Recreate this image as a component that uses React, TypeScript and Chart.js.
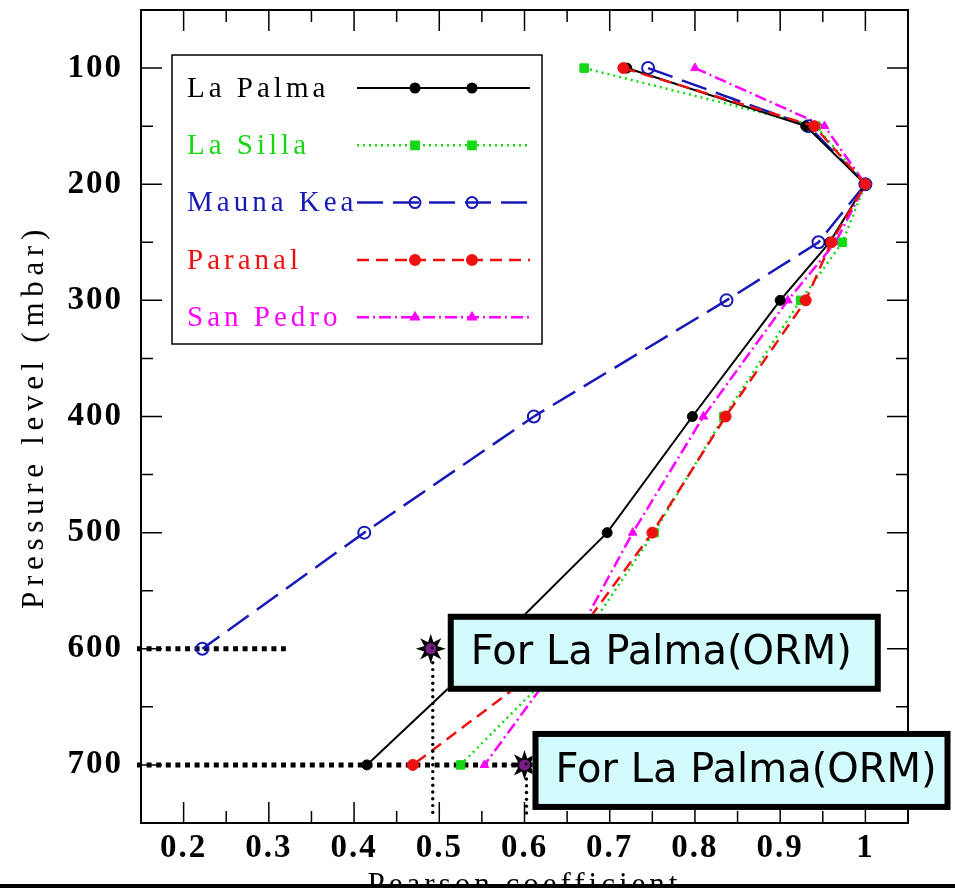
import React, { useEffect, useRef } from 'react';
import { Chart, registerables } from 'chart.js';

Chart.register(...registerables);

// ---------- data ----------
const pressureLevels = [100, 150, 200, 250, 300, 400, 500, 600, 700];
const seriesNames = ['La Palma', 'La Silla', 'Mauna Kea', 'Paranal', 'San Pedro'];
const laPalma = [0.72, 0.93, 1.0, 0.958, 0.9, 0.797, 0.697, 0.56, 0.415];
const laSilla = [0.67, 0.942, 1.0, 0.973, 0.924, 0.834, 0.752, 0.66, 0.525];
const maunaKea = [0.745, 0.933, 1.0, 0.945, 0.837, 0.611, 0.412, 0.222];
const paranal = [0.716, 0.94, 1.0, 0.96, 0.93, 0.836, 0.75, 0.65, 0.469];
const sanPedro = [0.8, 0.952, 1.0, 0.965, 0.909, 0.81, 0.727, 0.653, 0.553];

const xMajorTicks = [0.2, 0.3, 0.4, 0.5, 0.6, 0.7, 0.8, 0.9, 1.0];
const xTickLabels = ['0.2', '0.3', '0.4', '0.5', '0.6', '0.7', '0.8', '0.9', '1'];
const yMajorTicks = [100, 200, 300, 400, 500, 600, 700];
const yTickLabels = ['100', '200', '300', '400', '500', '600', '700'];

const xAxisTitle = 'Pearson coefficient';
const yAxisTitle = 'Pressure level (mbar)';

// annotation values (in data units)
const starPointsX = [0.49, 0.6];
const starPointsY = [600, 700];
const horizontalGuideY = [600, 700];
const horizontalGuideXEnd = [0.32, 0.6];
const verticalGuideEndY = 742;
const annotationText = 'For La Palma(ORM)';

// ---------- styles ----------
const SERIF = '"Liberation Serif", "DejaVu Serif", serif';
const CANVAS_H = 904;

const seriesValues = [laPalma, laSilla, maunaKea, paranal, sanPedro];
const seriesStyles = [
  { color: '#000000', fill: '#000000', dash: [], width: 2, point: 'circle', radius: 5 },
  { color: '#14d814', fill: '#14d814', dash: [2, 4], width: 2.5, point: 'rect', radius: 6 },
  { color: '#1818b8', fill: 'rgba(0,0,0,0)', dash: [26, 10], width: 2.5, point: 'circle', radius: 6 },
  { color: '#ee1111', fill: '#ee1111', dash: [12, 7], width: 2.5, point: 'circle', radius: 5.5 },
  { color: '#ff00ff', fill: '#ff00ff', dash: [12, 4, 2, 4], width: 2.5, point: 'triangle', radius: 5 },
];

function matchIndex(arr: number[], v: number) {
  for (let i = 0; i < arr.length; i++) if (Math.abs(arr[i] - v) < 1e-6) return i;
  return -1;
}

function drawMarker(ctx: CanvasRenderingContext2D, kind: string, x: number, y: number, r: number, color: string, fill: string) {
  ctx.save();
  ctx.setLineDash([]);
  ctx.strokeStyle = color;
  ctx.fillStyle = fill;
  ctx.lineWidth = 2;
  ctx.beginPath();
  if (kind === 'circle') {
    ctx.arc(x, y, r, 0, Math.PI * 2);
  } else if (kind === 'rect') {
    const s = r * Math.SQRT1_2;
    ctx.rect(x - s, y - s, 2 * s, 2 * s);
  } else {
    ctx.moveTo(x, y - r);
    ctx.lineTo(x + r * 0.87, y + r * 0.5);
    ctx.lineTo(x - r * 0.87, y + r * 0.5);
    ctx.closePath();
  }
  ctx.fill();
  ctx.stroke();
  ctx.restore();
}

function drawStar(ctx: CanvasRenderingContext2D, x: number, y: number) {
  const outer = 15;
  const inner = 7;
  ctx.save();
  ctx.setLineDash([]);
  ctx.fillStyle = '#000';
  ctx.beginPath();
  for (let i = 0; i < 16; i++) {
    const a = (Math.PI / 8) * i - Math.PI / 2;
    const r = i % 2 === 0 ? outer : inner;
    const px = x + r * Math.cos(a);
    const py = y + r * Math.sin(a);
    if (i === 0) ctx.moveTo(px, py);
    else ctx.lineTo(px, py);
  }
  ctx.closePath();
  ctx.fill();
  ctx.fillStyle = '#7a1f86';
  ctx.beginPath();
  ctx.arc(x, y, 5.5, 0, Math.PI * 2);
  ctx.fill();
  ctx.fillStyle = '#2a0030';
  ctx.beginPath();
  ctx.arc(x + 1.5, y - 1, 1.6, 0, Math.PI * 2);
  ctx.fill();
  ctx.restore();
}

function drawBox(ctx: CanvasRenderingContext2D, left: number, top: number, w: number, h: number) {
  ctx.save();
  ctx.setLineDash([]);
  (ctx as any).letterSpacing = '0px';
  ctx.fillStyle = '#d4fbfb';
  ctx.fillRect(left, top, w, h);
  ctx.strokeStyle = '#000';
  ctx.lineWidth = 6;
  ctx.strokeRect(left + 3, top + 3, w - 6, h - 6);
  ctx.fillStyle = '#000';
  ctx.font = '40px "DejaVu Sans", Verdana, sans-serif';
  ctx.textBaseline = 'middle';
  ctx.textAlign = 'left';
  ctx.fillText(annotationText, left + 23, top + h / 2 + 1);
  ctx.restore();
}

const TITLE_SPACING: Record<string, string> = { x: '4px', y: '5.7px' };

const spacingPlugin = {
  id: 'letterSpacing',
  beforeUpdate(chart: any) {
    chart.ctx.letterSpacing = '2px';
  },
  beforeDraw(chart: any) {
    chart.ctx.letterSpacing = '2px';
    for (const id of ['x', 'y']) {
      const s = chart.scales[id];
      if (s && !s.__wrappedTitle) {
        const orig = s.drawTitle.bind(s);
        s.drawTitle = () => {
          const c = s.ctx;
          const prev = c.letterSpacing;
          c.letterSpacing = TITLE_SPACING[id];
          orig();
          c.letterSpacing = prev;
        };
        s.__wrappedTitle = true;
      }
    }
  },
};

const framePlugin = {
  id: 'frameAndAnnotations',
  beforeDatasetsDraw(chart: any) {
    const { ctx, chartArea } = chart;
    const xs = chart.scales.x;
    const ys = chart.scales.y;
    ctx.save();
    ctx.strokeStyle = '#000';
    ctx.lineWidth = 5;
    ctx.lineCap = 'butt';
    ctx.setLineDash([5, 4.6]);
    for (let i = 0; i < horizontalGuideY.length; i++) {
      const py = ys.getPixelForValue(horizontalGuideY[i]);
      ctx.beginPath();
      ctx.moveTo(chartArea.left - 4, py);
      ctx.lineTo(xs.getPixelForValue(horizontalGuideXEnd[i]), py);
      ctx.stroke();
    }
    ctx.restore();
  },
  afterDatasetsDraw(chart: any) {
    const { ctx, chartArea } = chart;
    const xs = chart.scales.x;
    const ys = chart.scales.y;
    const { left, right, top, bottom } = chartArea;
    ctx.save();
    // frame
    ctx.setLineDash([]);
    ctx.strokeStyle = '#000';
    ctx.lineWidth = 2;
    ctx.strokeRect(left, top, right - left, bottom - top);
    // inward ticks
    ctx.lineWidth = 1.5;
    for (const t of xs.ticks) {
      const px = xs.getPixelForValue(t.value);
      if (px <= left + 1 || px >= right - 1) continue;
      const len = matchIndex(xMajorTicks, t.value) >= 0 ? 21 : 12;
      ctx.beginPath();
      ctx.moveTo(px, bottom);
      ctx.lineTo(px, bottom - len);
      ctx.moveTo(px, top);
      ctx.lineTo(px, top + len);
      ctx.stroke();
    }
    for (const t of ys.ticks) {
      const py = ys.getPixelForValue(t.value);
      if (py <= top + 1 || py >= bottom - 1) continue;
      const len = matchIndex(yMajorTicks, t.value) >= 0 ? 21 : 12;
      ctx.beginPath();
      ctx.moveTo(left, py);
      ctx.lineTo(left + len, py);
      ctx.moveTo(right, py);
      ctx.lineTo(right - len, py);
      ctx.stroke();
    }

    // legend
    const lx = left + 31;
    const ly = top + 45;
    const lw = 370;
    const lh = 289;
    ctx.fillStyle = '#fff';
    ctx.fillRect(lx, ly, lw, lh);
    ctx.strokeStyle = '#000';
    ctx.lineWidth = 1.5;
    ctx.strokeRect(lx, ly, lw, lh);
    ctx.font = `29px ${SERIF}`;
    (ctx as any).letterSpacing = '4px';
    ctx.textBaseline = 'middle';
    ctx.textAlign = 'left';
    seriesNames.forEach((name, i) => {
      const st = seriesStyles[i];
      const cy = ly + 33 + i * 57.3;
      ctx.fillStyle = st.color;
      ctx.fillText(name, lx + 15, cy + 1);
      ctx.save();
      ctx.strokeStyle = st.color;
      ctx.lineWidth = st.width;
      ctx.setLineDash(st.dash);
      ctx.beginPath();
      ctx.moveTo(lx + 185, cy);
      ctx.lineTo(lx + 358, cy);
      ctx.stroke();
      ctx.restore();
      drawMarker(ctx, st.point, lx + 243, cy, st.radius - 0.5, st.color, st.fill);
      drawMarker(ctx, st.point, lx + 300, cy, st.radius - 0.5, st.color, st.fill);
    });

    // vertical thin dotted guides
    ctx.fillStyle = '#000';
    for (let i = 0; i < starPointsX.length; i++) {
      const px = xs.getPixelForValue(starPointsX[i]) + 2;
      const y0 = ys.getPixelForValue(starPointsY[i]) + 14;
      const y1 = ys.getPixelForValue(verticalGuideEndY);
      for (let yy = y0; yy <= y1; yy += 6.8) {
        ctx.beginPath();
        ctx.arc(px, yy, 1.7, 0, Math.PI * 2);
        ctx.fill();
      }
    }
    // stars
    for (let i = 0; i < starPointsX.length; i++) {
      drawStar(ctx, xs.getPixelForValue(starPointsX[i]), ys.getPixelForValue(starPointsY[i]));
    }
    // boxes
    const s1x = xs.getPixelForValue(starPointsX[0]);
    const s1y = ys.getPixelForValue(starPointsY[0]);
    drawBox(ctx, s1x + 17, s1y - 35, 433, 78);
    const s2x = xs.getPixelForValue(starPointsX[1]);
    const s2y = ys.getPixelForValue(starPointsY[1]);
    drawBox(ctx, s2x + 8, s2y - 34, 418, 79);
    ctx.restore();
  },
};

export default function App() {
  const canvasRef = useRef<HTMLCanvasElement | null>(null);

  useEffect(() => {
    const canvas = canvasRef.current;
    if (!canvas) return;
    const datasets = seriesNames.map((name, i) => {
      const st = seriesStyles[i];
      return {
        label: name,
        data: seriesValues[i].map((v, j) => ({ x: v, y: pressureLevels[j] })),
        showLine: true,
        borderColor: st.color,
        backgroundColor: st.fill,
        pointBackgroundColor: st.fill,
        pointBorderColor: st.color,
        pointBorderWidth: i === 2 ? 2 : 1,
        borderWidth: st.width,
        borderDash: st.dash,
        pointStyle: st.point,
        pointRadius: st.radius,
        tension: 0,
        order: i === 3 ? 0 : i + 1,
      };
    });

    const chart = new Chart(canvas, {
      type: 'scatter',
      data: { datasets },
      options: {
        responsive: false,
        animation: false,
        devicePixelRatio: 1,
        layout: { padding: { top: 10, right: 47, left: 0, bottom: 0 } },
        plugins: { legend: { display: false }, tooltip: { enabled: false } },
        scales: {
          x: {
            type: 'linear',
            position: 'bottom',
            min: 0.15,
            max: 1.05,
            grid: { display: false, drawTicks: false },
            border: { display: false },
            ticks: {
              stepSize: 0.05,
              autoSkip: false,
              maxRotation: 0,
              padding: 6,
              color: '#000',
              font: { family: SERIF, size: 33, weight: 'bold' },
              callback: (v: any) => {
                const k = matchIndex(xMajorTicks, Number(v));
                return k >= 0 ? xTickLabels[k] : '';
              },
            },
            title: {
              display: true,
              text: xAxisTitle,
              color: '#000',
              font: { family: SERIF, size: 31 },
              padding: { top: 0, bottom: 0 },
            },
            afterFit: (s: any) => {
              s.height = CANVAS_H - 823;
              s.paddingLeft = 0;
              s.paddingRight = 0;
            },
          },
          y: {
            type: 'linear',
            reverse: true,
            min: 50,
            max: 750,
            grid: { display: false, drawTicks: false },
            border: { display: false },
            ticks: {
              stepSize: 50,
              autoSkip: false,
              padding: 18,
              color: '#000',
              font: { family: SERIF, size: 33, weight: 'bold' },
              callback: (v: any) => {
                const k = matchIndex(yMajorTicks, Number(v));
                return k >= 0 ? yTickLabels[k] : '';
              },
            },
            title: {
              display: true,
              text: yAxisTitle,
              color: '#000',
              font: { family: SERIF, size: 31 },
              padding: { top: 16, bottom: 0 },
            },
            afterFit: (s: any) => {
              s.width = 141;
              s.paddingTop = 0;
              s.paddingBottom = 0;
            },
          },
        },
      },
      plugins: [spacingPlugin, framePlugin],
    } as any);
    return () => chart.destroy();
  }, []);

  return (
    <div style={{ position: 'absolute', left: 0, top: 0, width: 955, height: 888, background: '#fff', overflow: 'hidden' }}>
      <div style={{ position: 'absolute', left: 0, top: 0, width: 955, height: 884, overflow: 'hidden' }}>
        <canvas ref={canvasRef} width={955} height={CANVAS_H} style={{ display: 'block' }} />
      </div>
      <div style={{ position: 'absolute', left: 0, top: 884, width: 955, height: 4, background: '#000' }} />
    </div>
  );
}
